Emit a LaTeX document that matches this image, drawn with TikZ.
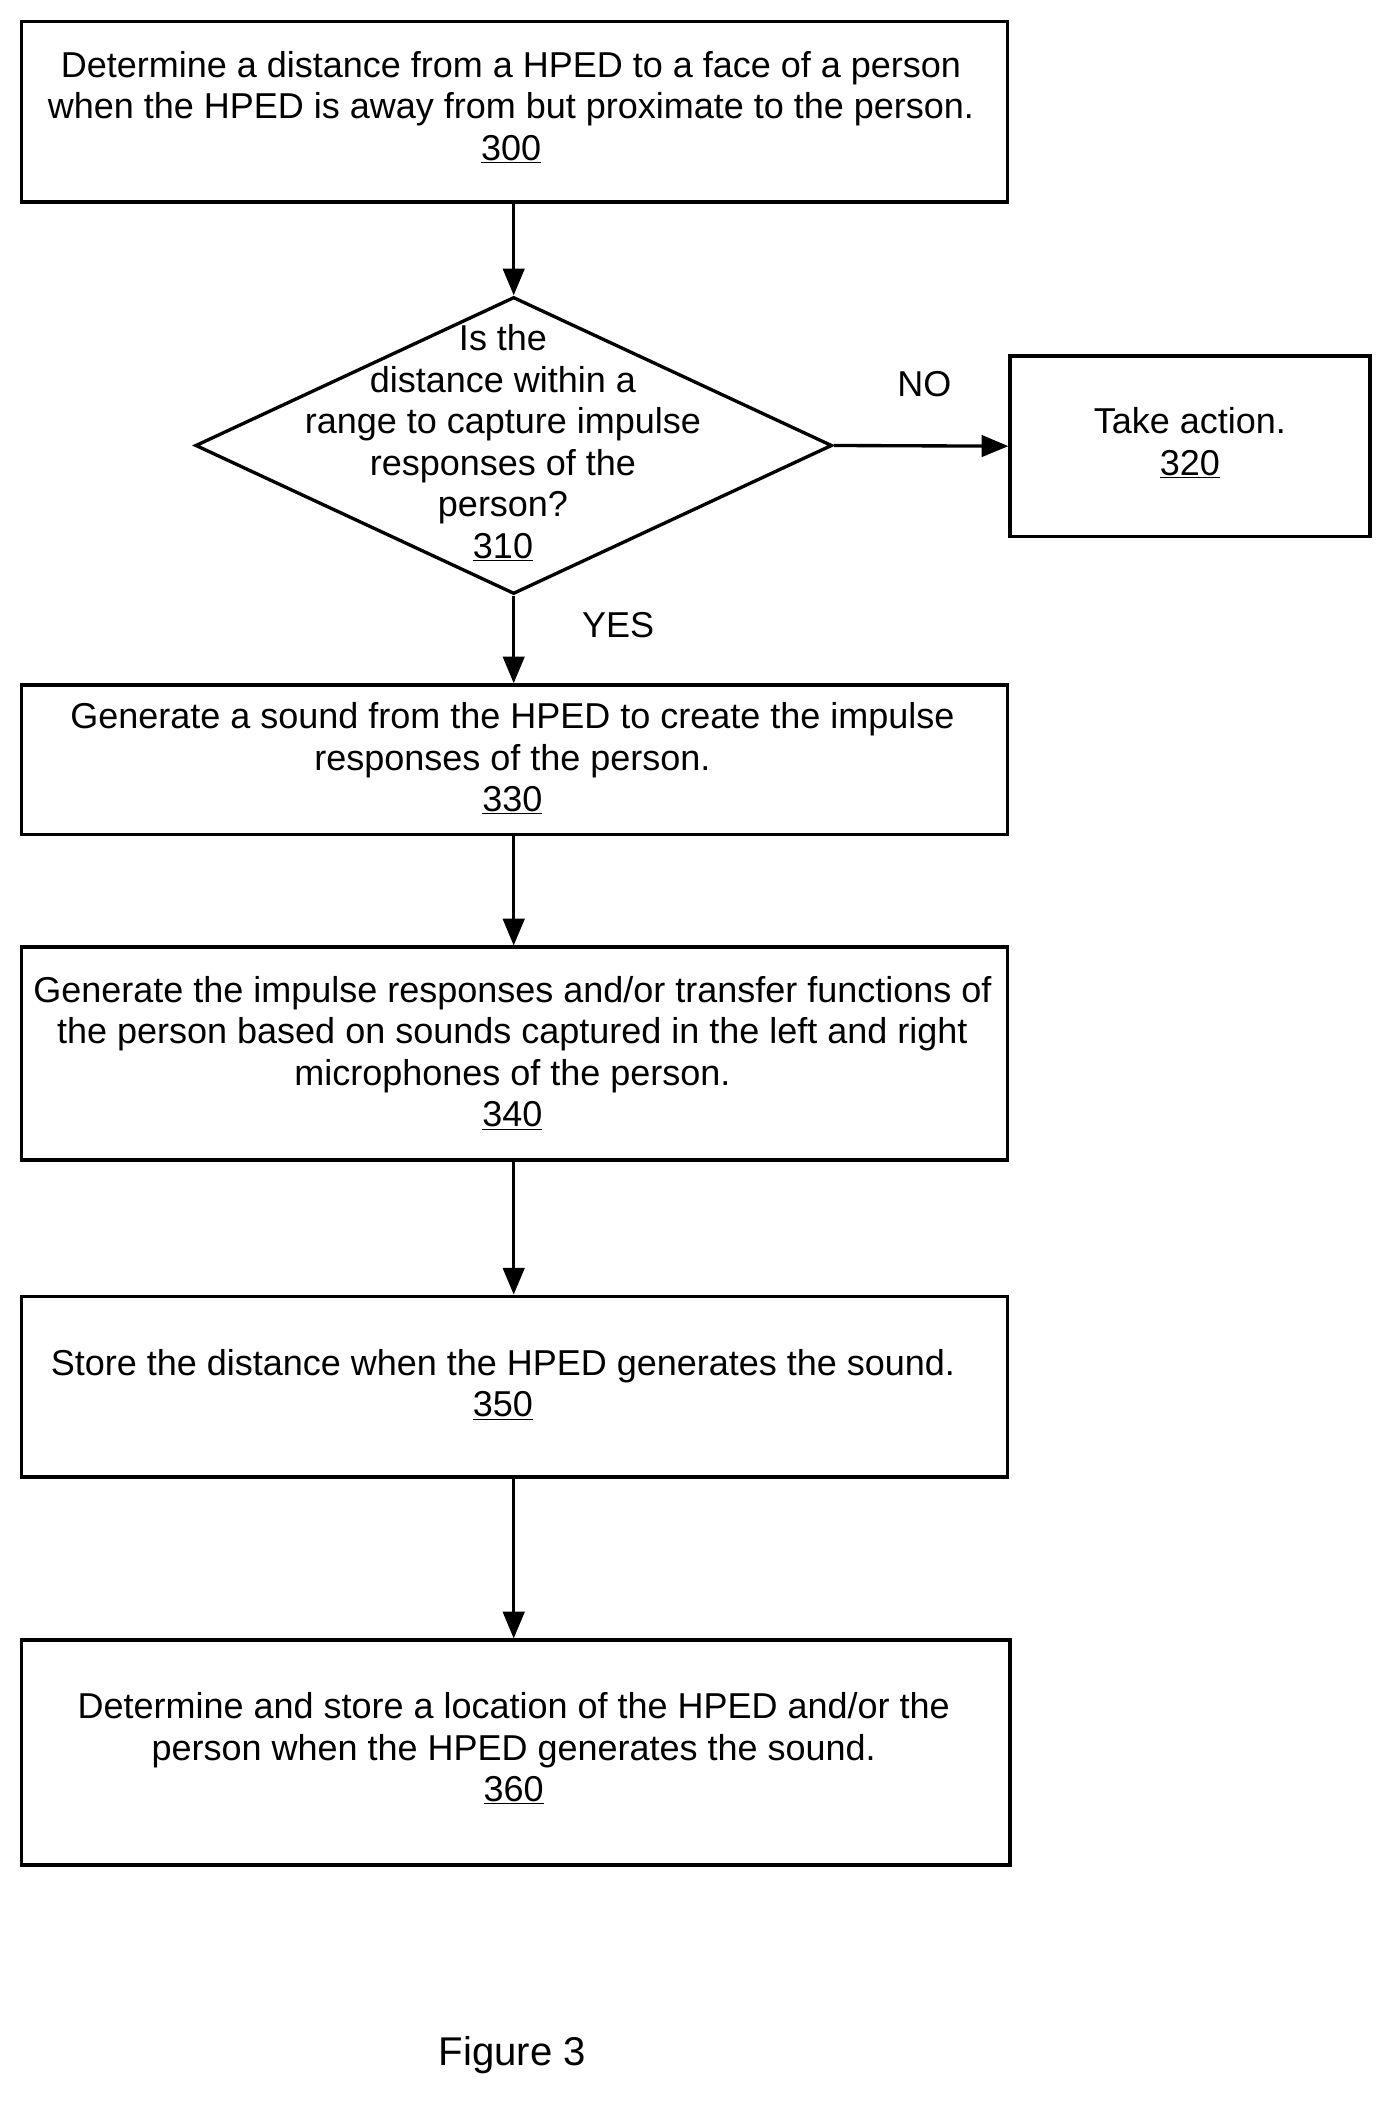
\documentclass[tikz,border=0pt]{standalone}
\usepackage{fontspec}
\setmainfont{Liberation Sans}
\usetikzlibrary{arrows.meta,shapes.geometric}
\begin{document}
\begin{tikzpicture}[x=1pt,y=-1pt,
  box/.style={draw,line width=2.5pt,inner sep=0pt,align=center},
  txt/.style={align=center,font=\fontsize{26.9}{31}\selectfont},
  arr/.style={line width=2.5pt,-{Triangle[length=20pt,width=16pt]}}]
\useasboundingbox (0,0) rectangle (1045,1575);
\node[box,minimum width=737pt,minimum height=135pt] (b300) at (384.5,83.5) {};
\node[txt] at (382,80) {Determine a distance from a HPED to a face of a person\\when the HPED is away from but proximate to the person.\\\underline{300}};
\node[draw,line width=2.5pt,diamond,minimum width=476pt,minimum height=222pt,inner sep=0pt] (d310) at (384,333) {};
\node[txt] at (376,331) {Is the\\distance within a\\range to capture impulse\\responses of the\\person?\\\underline{310}};
\node[box,minimum width=269pt,minimum height=135pt] (b320) at (889.5,333.5) {};
\node[txt] at (889.5,331) {Take action.\\\underline{320}};
\node[box,minimum width=737pt,minimum height=112pt] (b330) at (384.5,568) {};
\node[txt] at (383,567) {Generate a sound from the HPED to create the impulse\\responses of the person.\\\underline{330}};
\node[box,minimum width=737pt,minimum height=159pt] (b340) at (384.5,787.5) {};
\node[txt] at (383,787) {Generate the impulse responses and/or transfer functions of\\the person based on sounds captured in the left and right\\microphones of the person.\\\underline{340}};
\node[box,minimum width=737pt,minimum height=135pt] (b350) at (384.5,1036.5) {};
\node[txt] at (376,1035) {Store the distance when the HPED generates the sound.\\\underline{350}};
\node[box,minimum width=739pt,minimum height=168pt] (b360) at (385.5,1310) {};
\node[txt] at (384,1307) {Determine and store a location of the HPED and/or the\\person when the HPED generates the sound.\\\underline{360}};
\node[txt] (no) at (691,287) {NO};
\node[txt] (yes) at (462,467) {YES};
\node[txt,font=\fontsize{30}{34}\selectfont] (fig) at (383,1536) {Figure 3};
\draw[arr] (b300.south -| d310.north) -- (d310.north);
\draw[arr] (d310.east) -- (b320.west);
\draw[arr] (d310.south) -- (d310.south |- b330.north);
\draw[arr] (d310.south |- b330.south) -- (d310.south |- b340.north);
\draw[arr] (d310.south |- b340.south) -- (d310.south |- b350.north);
\draw[arr] (d310.south |- b350.south) -- (d310.south |- b360.north);
\end{tikzpicture}
\end{document}
